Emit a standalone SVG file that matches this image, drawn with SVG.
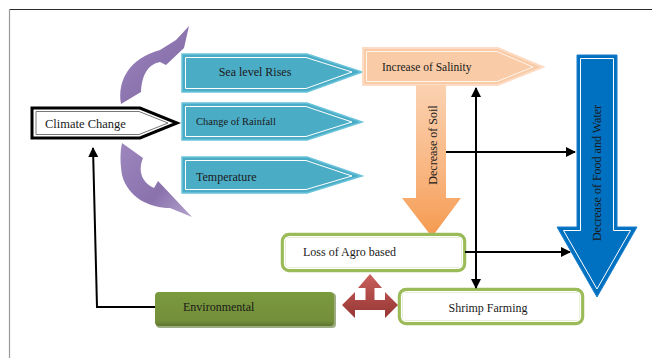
<svg xmlns="http://www.w3.org/2000/svg" width="652" height="358" viewBox="0 0 652 358">
<defs>
<style>
text{font-family:"Liberation Serif","Times New Roman",serif;fill:#1a1a1a}
.teal{fill:#4bacc6;stroke:#69c3da;stroke-width:1.5}
.inner{fill:none;stroke:#ffffff;stroke-width:1}
.green{fill:#ffffff;stroke:#9bbb59;stroke-width:4.5}
.gin{fill:none;stroke:#ffffff;stroke-width:1.2}
.conn{fill:none;stroke:#000;stroke-width:2}
</style>
<marker id="ah" viewBox="0 0 10 10" refX="9" refY="5" markerWidth="5" markerHeight="5" orient="auto-start-reverse" markerUnits="strokeWidth">
<path d="M0,0 L10,5 L0,10 Z" fill="#000"/>
</marker>
<linearGradient id="purple" x1="0" y1="0" x2="1" y2="1">
<stop offset="0" stop-color="#9d87bd"/><stop offset="0.6" stop-color="#8a72ad"/><stop offset="1" stop-color="#b4a3cc"/>
</linearGradient>
<linearGradient id="soil" x1="0" y1="0" x2="0" y2="1">
<stop offset="0" stop-color="#fbd2b1"/><stop offset="0.6" stop-color="#f8b47e"/><stop offset="1" stop-color="#f59a4f"/>
</linearGradient>
<linearGradient id="red" x1="0" y1="0" x2="0" y2="1">
<stop offset="0" stop-color="#c9605c"/><stop offset="1" stop-color="#963634"/>
</linearGradient>
<linearGradient id="olive" x1="0" y1="0" x2="0" y2="1">
<stop offset="0" stop-color="#7a9a3e"/><stop offset="0.85" stop-color="#748f3a"/><stop offset="1" stop-color="#5e7630"/>
</linearGradient>
</defs>
<rect width="652" height="358" fill="#ffffff"/>
<line x1="9" y1="9.5" x2="652" y2="9.5" stroke="#2b2b2b" stroke-width="1.2"/>
<line x1="9.5" y1="9" x2="9.5" y2="358" stroke="#9a9a9a" stroke-width="1.2"/>

<g id="curve-up">
<path d="M121,104 C117,80 130,58 160,50 L176,40 L189,26 L184,48 L166,65 L160,62 C150,64 142,72 141,92 Z" fill="url(#purple)"/>
</g>
<g id="curve-down">
<path d="M122,143 L143,158 C138,170 141,182 154,188 L158,181 L192,217 L170,208 C150,208 128,198 122,175 C120,163 120,152 122,143 Z" fill="url(#purple)"/>
</g>

<g id="climate">
<polygon points="32,108 140,108 177,123 140,138 32,138" fill="#fff" stroke="#000" stroke-width="3"/>
<polygon points="36,111.5 139,111.5 168,123 139,134.5 36,134.5" fill="none" stroke="#555" stroke-width="0.8"/>
<text x="45" y="127.5" font-size="12.5">Climate Change</text>
</g>

<g id="sea">
<polygon class="teal" points="182,54 307,54 362,72 307,92 182,92"/>
<polygon class="inner" points="185.5,57.5 306,57.5 352,72 306,88.5 185.5,88.5"/>
<text x="255" y="76" font-size="12" text-anchor="middle">Sea level Rises</text>
</g>
<g id="rainfall">
<polygon class="teal" points="182,103 307,103 362,122 307,140 182,140"/>
<polygon class="inner" points="185.5,106.5 306,106.5 352,122 306,136.5 185.5,136.5"/>
<text x="196" y="125" font-size="10.5">Change of Rainfall</text>
</g>
<g id="temperature">
<polygon class="teal" points="182,157 307,157 362,176 307,193 182,193"/>
<polygon class="inner" points="185.5,160.5 306,160.5 352,176 306,189.5 185.5,189.5"/>
<text x="196" y="181" font-size="12">Temperature</text>
</g>

<g id="salinity">
<polygon points="363,48 498,48 543,67 498,85 363,85" fill="#f9cba7" stroke="#fcdcc4" stroke-width="2"/>
<polygon points="366.5,51.5 497,51.5 533,67 497,81.5 366.5,81.5" fill="none" stroke="#ffffff" stroke-width="0.8"/>
<text x="382" y="71" font-size="11.5">Increase of Salinity</text>
</g>

<g id="soil">
<polygon points="416,85 446,85 446,198 461,198 432,237 402,198 416,198" fill="url(#soil)"/>
<text transform="translate(437,145) rotate(-90)" font-size="12" text-anchor="middle">Decrease of Soil</text>
</g>

<g id="food-water">
<polygon points="577,55 617,55 617,227 637,227 597,297 557,227 577,227" fill="#0070c0" stroke="#1a7fcc" stroke-width="1"/>
<polygon points="580.5,58.5 613.5,58.5 613.5,230.5 630.5,230.5 597,289 563.5,230.5 580.5,230.5" fill="none" stroke="#ffffff" stroke-width="1"/>
<text transform="translate(601,173) rotate(-90)" font-size="12" text-anchor="middle">Decrease of Food and Water</text>
</g>

<g id="agro">
<rect class="green" x="283" y="235" width="181" height="35" rx="6"/>
<rect class="gin" x="284.5" y="236.5" width="178" height="32" rx="5"/>
<text x="303" y="256" font-size="12">Loss of Agro based</text>
</g>

<g id="shrimp">
<rect class="green" x="400" y="290" width="182" height="33" rx="6"/>
<rect class="gin" x="401.5" y="291.5" width="179" height="30" rx="5"/>
<text x="488" y="312" font-size="12" text-anchor="middle">Shrimp Farming</text>
</g>

<g id="environmental">
<rect x="156" y="293" width="180" height="35" rx="4" fill="#5d742f" opacity="0.6"/>
<rect x="155" y="292" width="179" height="34" rx="4" fill="url(#olive)"/>
<text x="183" y="311" font-size="12">Environmental</text>
</g>

<g id="cross">
<path d="M370,274 L382,288 L374.5,288 L374.5,300 L385,300 L385,292 L398,305 L385,318 L385,310 L355,310 L355,318 L342,305 L355,292 L355,300 L365.5,300 L365.5,288 L358,288 Z" fill="url(#red)"/>
</g>

<g id="connectors">
<polyline class="conn" points="155,307 97,307 93,148" marker-end="url(#ah)"/>
<line class="conn" x1="476" y1="88" x2="476" y2="288" marker-start="url(#ah)" marker-end="url(#ah)"/>
<line class="conn" x1="446" y1="152" x2="575" y2="152" marker-end="url(#ah)"/>
<line class="conn" x1="465" y1="252" x2="570" y2="252" marker-end="url(#ah)"/>
</g>
</svg>
